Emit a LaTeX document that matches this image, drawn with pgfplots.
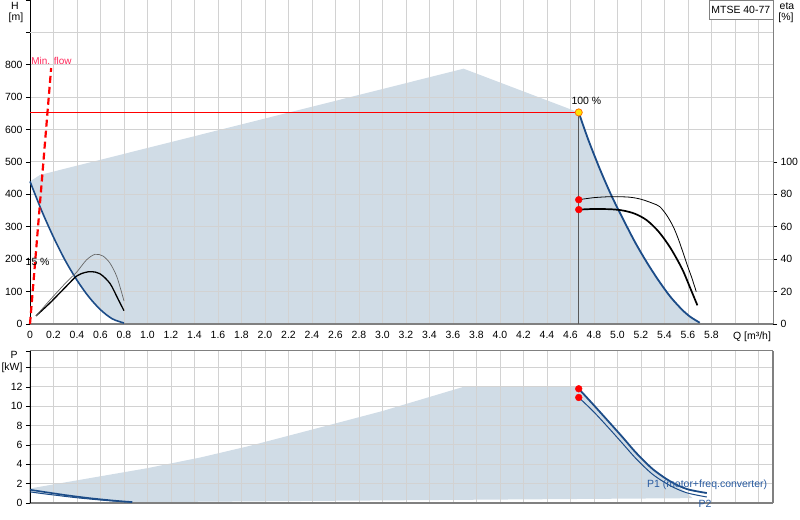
\documentclass[border=0pt]{standalone}
\usepackage{fontspec}
\setmainfont{Liberation Sans}
\usepackage{pgfplots}
\pgfplotsset{compat=1.18}
\definecolor{shade}{RGB}{208,220,230}
\definecolor{bluecurve}{RGB}{28,76,136}
\definecolor{gridgray}{RGB}{210,210,210}
\definecolor{axisgray}{RGB}{128,128,128}
\definecolor{minred}{RGB}{255,40,90}
\definecolor{labelblue}{RGB}{40,90,160}
\newcommand{\fs}{\fontsize{10.5}{12}\selectfont}
\pgfplotsset{
  common/.style={
    width=743bp, scale only axis, xmin=0, xmax=6.3234,
    clip=false,
    tick label style={font=\fs},
    tick align=outside, major tick length=4bp,
    xtick={0,0.2,0.4,0.6,0.8,1.0,1.2,1.4,1.6,1.8,2.0,2.2,2.4,2.6,2.8,3.0,3.2,3.4,3.6,3.8,4.0,4.2,4.4,4.6,4.8,5.0,5.2,5.4,5.6,5.8,6.0,6.2},
    xtick style={draw=none},
    ytick style={draw=black, line width=0.6bp},
    grid=major, major grid style={draw=gridgray, line width=1bp},
  },
  bg/.style={
    width=743bp, scale only axis, xmin=0, xmax=6.3234, hide axis, clip=false,
  }
}
\begin{document}
\begin{tikzpicture}
\useasboundingbox (0,0) rectangle (800bp,520bp);
% ---------------- top: shading ----------------
\begin{axis}[bg, at={(30bp,196bp)}, anchor=south west, height=324bp, ymin=0, ymax=1000]
\addplot[fill=shade, draw=none] coordinates {
 (0,440) (0.085,460) (3.69,788) (4.67,653) (4.75,570) (4.85,478) (4.95,395)
 (5.05,322) (5.15,252) (5.25,190) (5.35,134) (5.45,84) (5.55,44) (5.62,22)
 (5.70,4) (5.74,0) (0.8,0) (0.7,16) (0.6,44) (0.5,84) (0.4,135) (0.3,196)
 (0.2,268) (0.1,349) (0,440)};
\end{axis}
% ---------------- top: H axis ----------------
\begin{axis}[common,
  at={(30bp,196bp)}, anchor=south west, height=324bp,
  ymin=0, ymax=1000,
  axis x line*=bottom, axis y line*=left,
  x axis line style={-, draw=axisgray, line width=1.6bp},
  y axis line style={-, draw=black, line width=0.8bp},
  xticklabels={0,0.2,0.4,0.6,0.8,1.0,1.2,1.4,1.6,1.8,2.0,2.2,2.4,2.6,2.8,3.0,3.2,3.4,3.6,3.8,4.0,4.2,4.4,4.6,4.8,5.0,5.2,5.4,5.6,5.8,{},{}},
  ytick={0,100,200,300,400,500,600,700,800},
  yticklabels={0,100,200,300,400,500,600,700,800},
  extra y ticks={900,1000}, extra y tick labels={},
  extra y tick style={grid=major, tick style={draw=none}},
  extra x ticks={6.145}, extra x tick labels={Q [m³/h]},
  extra x tick style={grid=none, tick style={draw=none}},
]
% min speed curve
\addplot[bluecurve, line width=1.6bp, smooth] coordinates {
 (0,440) (0.1,349) (0.2,268) (0.3,196) (0.4,135) (0.5,84) (0.6,44) (0.7,16) (0.8,3)};
% max speed curve
\addplot[bluecurve, line width=1.8bp, smooth] coordinates {
 (4.67,653) (4.75,570) (4.85,478) (4.95,395) (5.05,322) (5.15,252) (5.25,190)
 (5.35,134) (5.45,84) (5.55,44) (5.62,22) (5.70,4)};
% min flow
\addplot[red, line width=2.2bp, dash pattern=on 7bp off 4bp] coordinates {(0,0) (0.18,790)};
\node[text=minred, font=\fontsize{10}{12}\selectfont, anchor=west, inner sep=0pt] at (axis cs:0.01,812) {Min. flow};
% duty point
\addplot[red, line width=1.1bp] coordinates {(0,653) (4.67,653)};
\addplot[black!65, line width=1bp] coordinates {(4.67,653) (4.67,0)};
\addplot[only marks, mark=*, mark size=3.6bp, mark options={fill=yellow!85!orange, draw=orange!90!red, line width=0.8bp}] coordinates {(4.67,653)};
\node[font=\fs, anchor=south, inner sep=1pt] at (axis cs:4.735,672) {100 \%};
\node[font=\fs, inner sep=0pt] at (axis cs:0.065,191) {15 \%};
\node[draw=gray, fill=white, anchor=north east, minimum width=64bp, minimum height=19bp, inner sep=1pt, font=\fs] at (rel axis cs:1,1) {MTSE 40-77};
\end{axis}
% ---------------- top: eta axis ----------------
\begin{axis}[
  at={(30bp,196bp)}, anchor=south west, width=743bp, height=324bp, scale only axis,
  xmin=0, xmax=6.3234, ymin=0, ymax=200, clip=false,
  axis x line=none, axis y line*=right,
  y axis line style={-, draw=axisgray, line width=1bp},
  ytick={0,20,40,60,80,100}, yticklabels={0,20,40,60,80,100},
  tick align=outside, major tick length=4bp,
  ytick style={draw=black, line width=0.6bp},
  yticklabel style={font=\fs},
]
\addplot[black, line width=1.7bp, smooth] coordinates {
 (4.67,70.6) (4.8,71) (4.95,70.8) (5.05,70) (5.15,68) (5.25,64) (5.35,57)
 (5.45,47) (5.55,34) (5.62,22) (5.68,11.5)};
\addplot[black, line width=0.8bp, smooth] coordinates {
 (4.67,76.7) (4.8,78) (4.95,78.6) (5.1,78.3) (5.2,77) (5.3,74.5) (5.36,72.4)
 (5.42,67) (5.475,60) (5.52,52) (5.56,43.6) (5.6,35) (5.63,29) (5.67,20)};
\addplot[black, line width=1.3bp, smooth] coordinates {
 (0.051,5) (0.17,13) (0.312,23.5) (0.397,29.6) (0.468,31.8) (0.525,32.3)
 (0.596,31) (0.681,25) (0.752,15) (0.8,8.2)};
\addplot[black!60, line width=0.7bp, smooth] coordinates {
 (0.051,5) (0.17,14.8) (0.312,26) (0.397,32) (0.48,39.5) (0.553,43) (0.62,42)
 (0.681,37.5) (0.74,29) (0.8,14.2)};
\addplot[only marks, mark=*, mark size=3.4bp, red] coordinates {(4.67,70.6) (4.67,76.7)};
\end{axis}
% ---------------- bottom: shading ----------------
\begin{axis}[bg, at={(30bp,17bp)}, anchor=south west, height=152bp, ymin=0, ymax=15.7]
\addplot[fill=shade, draw=none] coordinates {
 (0,1.5) (0.5,2.55) (1.0,3.6) (1.45,4.7) (1.87,5.9) (2.5,7.9) (3.0,9.5) (3.69,12)
 (4.67,12) (4.67,11.8) (4.795,10.15) (4.936,8.25) (5.05,6.7) (5.16,5.16) (5.30,3.5)
 (5.45,2.23) (5.55,1.4) (5.64,0.5) (0.87,0.08) (0.8,0.13) (0.7,0.21) (0.6,0.31)
 (0.5,0.42) (0.4,0.54) (0.3,0.68) (0.2,0.83) (0.1,0.98) (0,1.15) (0,1.5)};
\end{axis}
% ---------------- bottom: P axis ----------------
\begin{axis}[common,
  at={(30bp,17bp)}, anchor=south west, height=152bp,
  ymin=0, ymax=15.7,
  axis x line*=bottom, axis y line*=left,
  x axis line style={-, draw=axisgray, line width=1.6bp},
  y axis line style={-, draw=black, line width=0.8bp},
  xticklabels={},
  ytick={0,2,4,6,8,10,12,14}, yticklabels={0,2,4,6,8,10,12,[kW]},
  extra y ticks={15.7}, extra y tick labels={},
  extra y tick style={grid=major, tick style={draw=none}, major grid style={draw=axisgray, line width=1bp}},
  extra x ticks={6.3234}, extra x tick labels={},
  extra x tick style={grid=major, tick style={draw=none}, major grid style={draw=axisgray, line width=1.2bp}},
]
\addplot[bluecurve, line width=1.6bp, smooth] coordinates {
 (0,1.37) (0.1,1.18) (0.2,1.0) (0.3,0.82) (0.4,0.66) (0.5,0.51) (0.6,0.38)
 (0.7,0.26) (0.8,0.16) (0.87,0.1)};
\addplot[bluecurve, line width=1bp, smooth] coordinates {
 (0,1.15) (0.1,0.98) (0.2,0.83) (0.3,0.68) (0.4,0.54) (0.5,0.42) (0.6,0.31)
 (0.7,0.21) (0.8,0.13) (0.87,0.09)};
\addplot[bluecurve, line width=1.8bp, smooth] coordinates {
 (4.67,11.8) (4.795,10.15) (4.936,8.25) (5.05,6.7) (5.16,5.16) (5.30,3.5)
 (5.45,2.23) (5.59,1.44) (5.76,1.03)};
\addplot[bluecurve, line width=1bp, smooth] coordinates {
 (4.67,10.9) (4.795,9.45) (4.936,7.6) (5.05,6.05) (5.16,4.55) (5.30,2.95)
 (5.45,1.78) (5.59,1.05) (5.76,0.62)};
\addplot[only marks, mark=*, mark size=3.4bp, red] coordinates {(4.67,11.8) (4.67,10.9)};
\node[text=labelblue, font=\fs, anchor=west, inner sep=0pt] at (axis cs:5.25,1.9) {P1 (motor+freq.converter)};
\node[text=labelblue, font=\fs, inner sep=0pt] at (axis cs:5.745,-0.05) {P2};
\end{axis}
% axis titles
\node[font=\fs, inner sep=0pt] at (15bp,514bp) {H};
\node[font=\fs, inner sep=0pt] at (16bp,502bp) {[m]};
\node[font=\fs, inner sep=0pt] at (787bp,514bp) {eta};
\node[font=\fs, inner sep=0pt] at (786bp,502bp) {[\%]};
\node[font=\fs, inner sep=0pt] at (14bp,165bp) {P};
\end{tikzpicture}
\end{document}
